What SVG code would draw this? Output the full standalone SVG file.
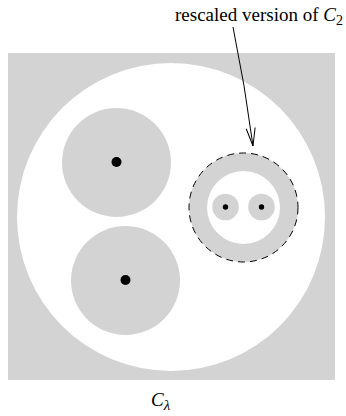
<svg xmlns="http://www.w3.org/2000/svg" width="346" height="416" viewBox="0 0 346 416">
<style>
.g{fill:#d3d3d3}
.w{fill:#ffffff}
.d{fill:#000000}
.t{font-family:"Liberation Serif","Times New Roman",serif;font-size:19px;fill:#000}
.i{font-style:italic}
</style>
<defs>
<marker id="ah" viewBox="0 0 20 12" refX="19" refY="6" markerWidth="20" markerHeight="12" markerUnits="userSpaceOnUse" orient="auto">
<path d="M1,1.5 L19,6 L1,10.5" fill="none" stroke="#000" stroke-width="1"/>
</marker>
</defs>
<rect x="8" y="53" width="327" height="327" class="g"/>
<circle cx="171" cy="217" r="154" class="w"/>
<g id="disk1">
<circle cx="116.5" cy="162.5" r="54.5" class="g"/>
<circle cx="116.5" cy="162" r="5" class="d"/>
</g>
<g id="disk2">
<circle cx="125.5" cy="280.5" r="54.5" class="g"/>
<circle cx="125.5" cy="280" r="5" class="d"/>
</g>
<g id="c2">
<circle cx="243.5" cy="207.5" r="54.5" class="g" stroke="#000" stroke-width="1" stroke-dasharray="7,5"/>
<circle cx="243.5" cy="207.5" r="36.5" class="w"/>
<circle cx="225.5" cy="207" r="13.3" class="g"/>
<circle cx="225.5" cy="207" r="2.7" class="d"/>
<circle cx="261.5" cy="207" r="13.3" class="g"/>
<circle cx="261.5" cy="207" r="2.7" class="d"/>
</g>
<g id="connectors">
<path d="M233,27 Q245,85 253,146" fill="none" stroke="#000" stroke-width="1" marker-end="url(#ah)"/>
</g>
<g id="labels">
<text x="175" y="21" class="t">rescaled version of <tspan class="i">C</tspan><tspan font-size="14" dy="4">2</tspan></text>
<text x="151" y="406" class="t"><tspan class="i">C</tspan><tspan font-size="15" dy="4" class="i">λ</tspan></text>
</g>
</svg>
